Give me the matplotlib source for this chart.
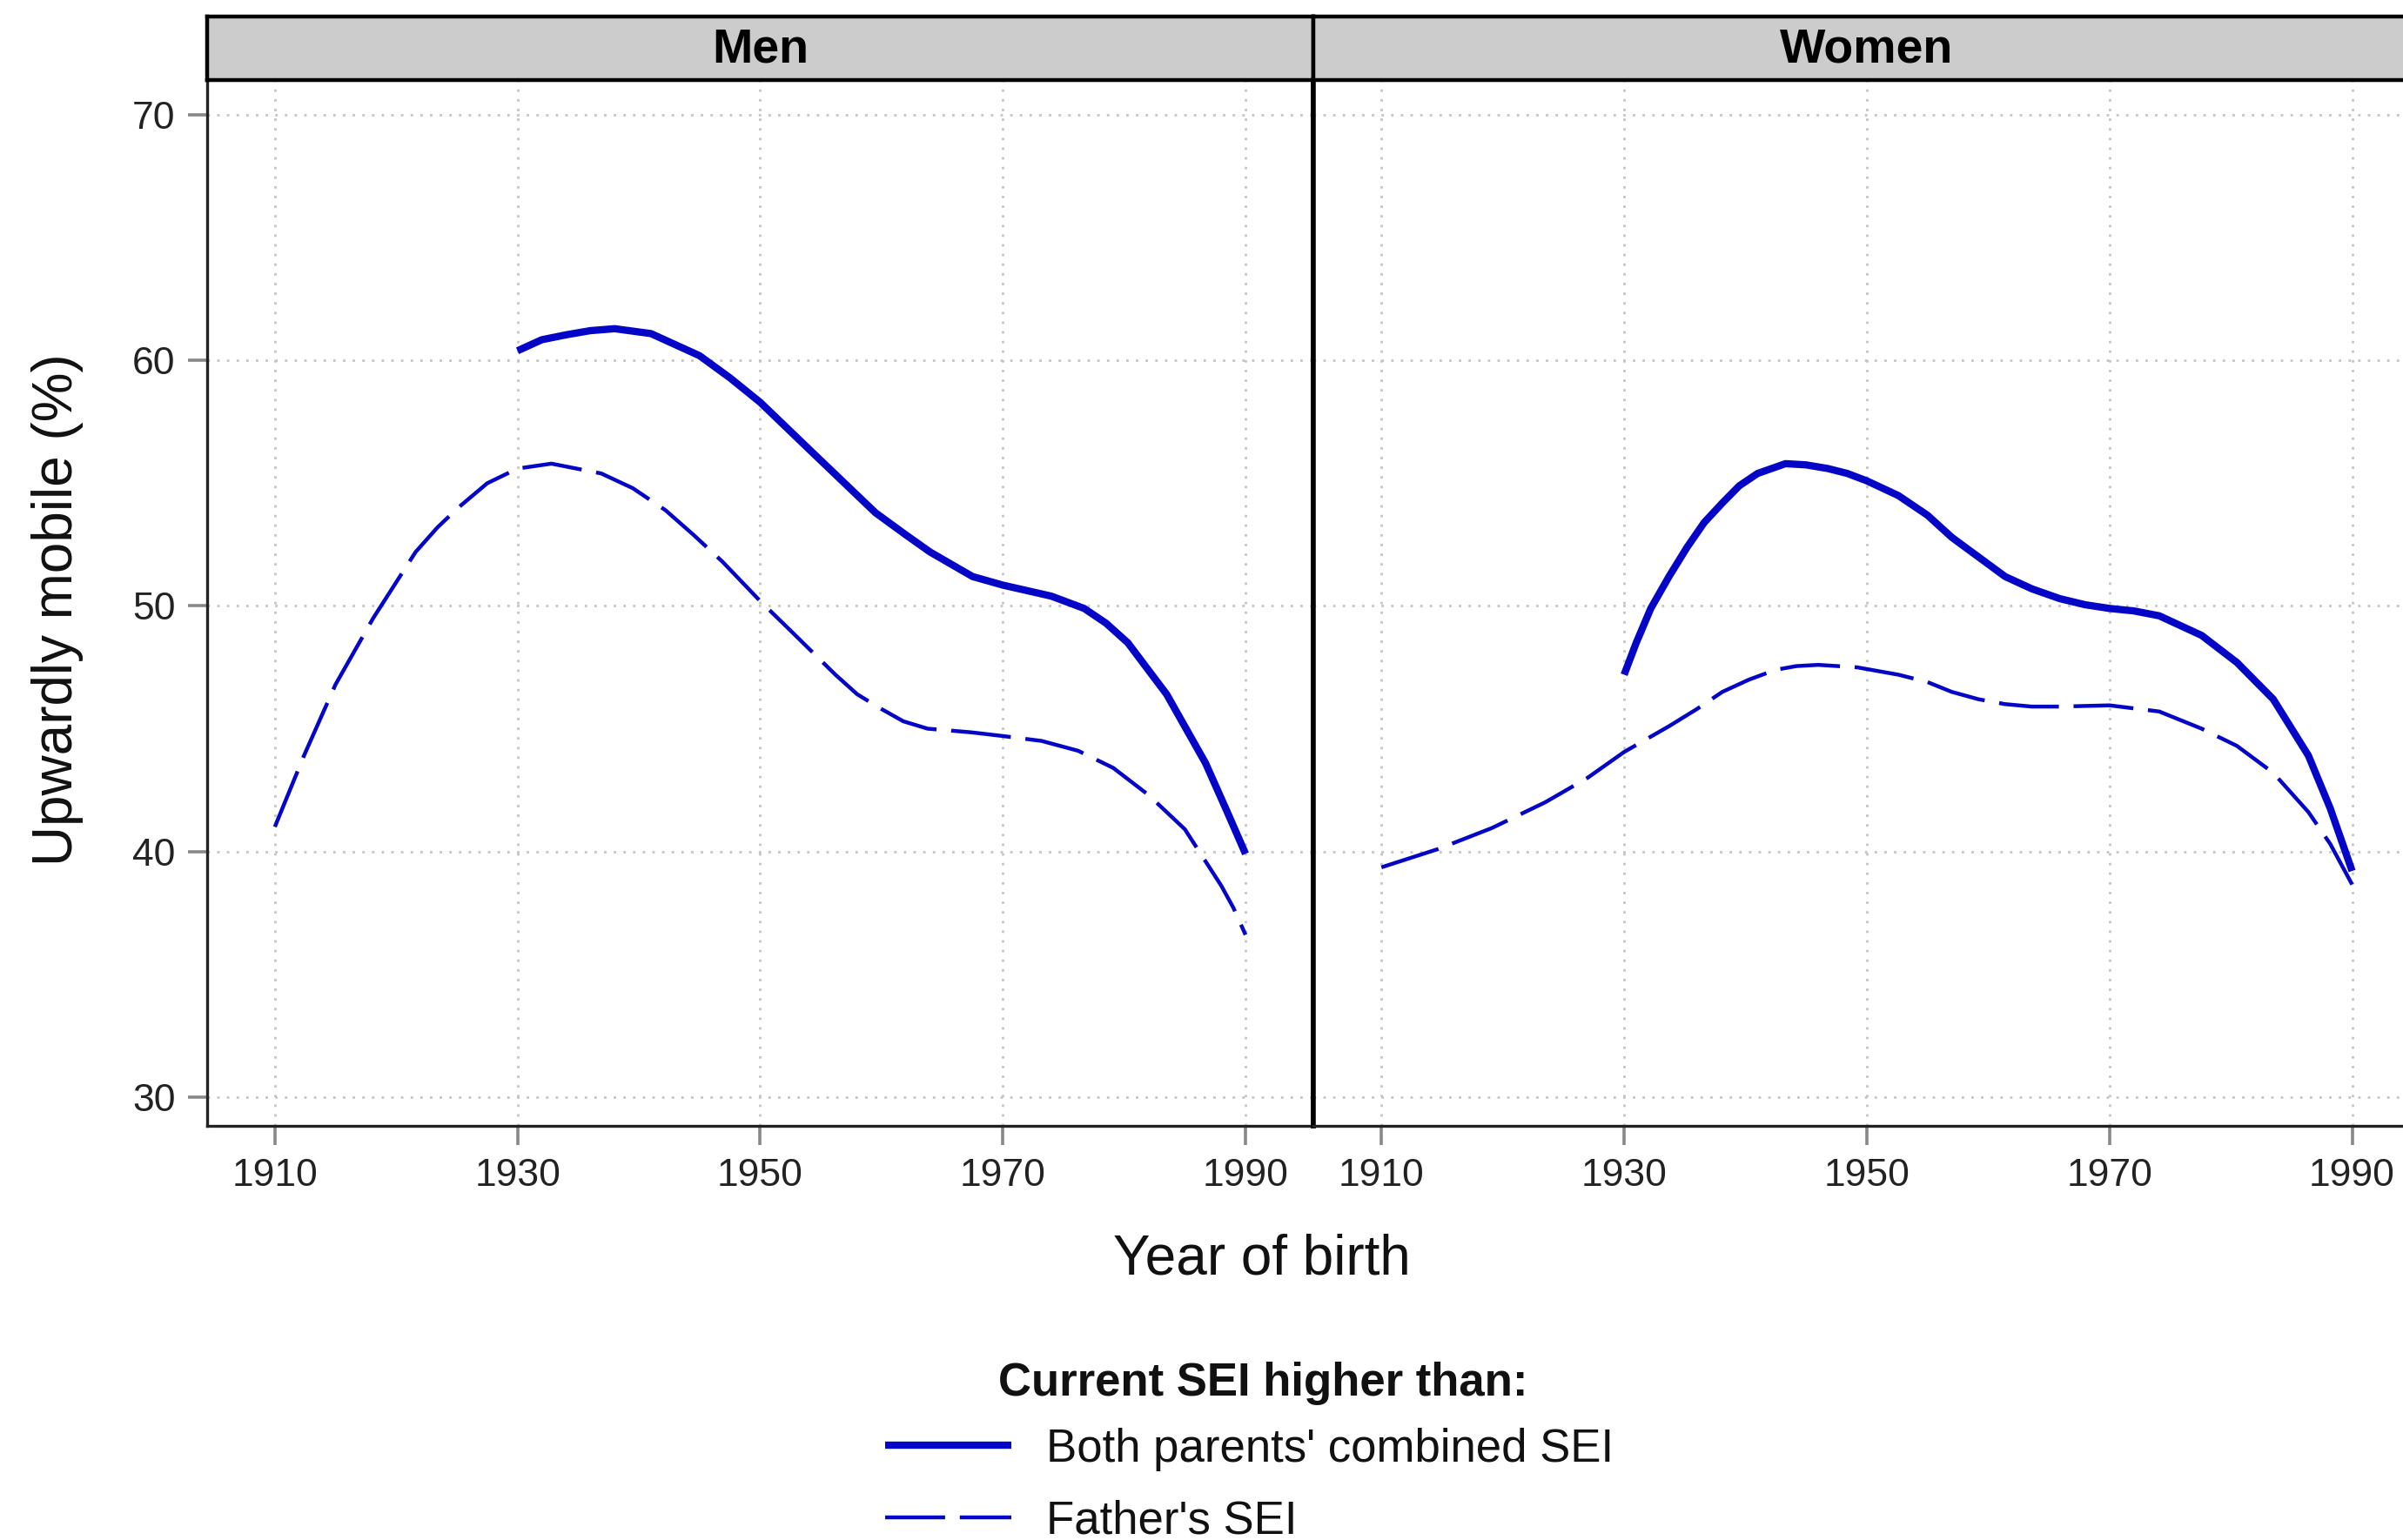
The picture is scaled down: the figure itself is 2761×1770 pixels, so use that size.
import matplotlib
matplotlib.use("Agg")
import matplotlib.pyplot as plt

plt.rcParams["font.family"] = ["Liberation Sans", "DejaVu Sans"]

# values (upwardly mobile, %)
men_both_yr = [1930, 1932, 1934, 1936, 1938, 1941, 1945, 1947.5, 1950, 1954, 1959.5,
               1962, 1964, 1967.5, 1970, 1974, 1976.7, 1978.5, 1980.3, 1983.5,
               1986.7, 1988.5, 1990]
men_both = [60.4, 60.85, 61.05, 61.22, 61.3, 61.1, 60.2, 59.3, 58.3, 56.4, 53.8,
            52.9, 52.2, 51.2, 50.85, 50.4, 49.9, 49.3, 48.5, 46.4,
            43.6, 41.6, 39.9]

men_father_yr = [1910, 1912.4, 1915, 1918.1, 1921.6, 1923.4, 1925.1, 1927.5, 1930,
                 1932.8, 1936.9, 1939.5, 1942.2, 1944.5, 1946.9, 1950, 1952.7, 1956.2,
                 1958, 1960, 1961.8, 1963.8, 1967.4, 1970, 1973.2, 1976.2, 1979.1,
                 1982, 1985, 1988, 1989, 1990]
men_father = [41.0, 43.9, 46.8, 49.5, 52.2, 53.2, 54.0, 55.0, 55.6,
              55.8, 55.4, 54.8, 53.9, 52.9, 51.8, 50.2, 48.9, 47.2,
              46.4, 45.8, 45.3, 45.0, 44.85, 44.7, 44.5, 44.1, 43.4,
              42.3, 40.9, 38.6, 37.7, 36.6]

women_both_yr = [1930, 1931, 1932.2, 1933.7, 1935.2, 1936.6, 1938.1, 1939.5, 1941,
                 1943.3, 1945, 1946.8, 1948.4, 1950, 1952.6, 1955, 1957, 1959.2,
                 1961.4, 1963.6, 1965.9, 1968, 1970, 1972, 1974.1, 1977.6, 1980.5,
                 1983.5, 1986.4, 1988.2, 1990]
women_both = [47.2, 48.5, 49.9, 51.2, 52.4, 53.4, 54.2, 54.9, 55.4,
              55.8, 55.75, 55.6, 55.4, 55.1, 54.5, 53.7, 52.8, 52.0,
              51.2, 50.7, 50.3, 50.05, 49.9, 49.8, 49.6, 48.8, 47.7,
              46.2, 43.9, 41.75, 39.2]

women_father_yr = [1910, 1914.7, 1919.1, 1923.5, 1927, 1930, 1933.7, 1936, 1938.1,
                   1940.3, 1942.5, 1944.2, 1946, 1949.2, 1952.6, 1955, 1957, 1959.2,
                   1961.4, 1963.6, 1965.9, 1970, 1974.1, 1977.6, 1980.5, 1983.5,
                   1986.4, 1988.2, 1990]
women_father = [39.35, 40.1, 40.95, 42.0, 43.0, 44.05, 45.1, 45.8, 46.5,
                47.0, 47.4, 47.55, 47.6, 47.5, 47.2, 46.9, 46.5, 46.2,
                46.0, 45.9, 45.9, 45.95, 45.7, 45.0, 44.3, 43.2,
                41.6, 40.3, 38.65]

panels = ["Men", "Women"]
xticks = [1910, 1930, 1950, 1970, 1990]
yticks = [30, 40, 50, 60, 70]
series_labels = ["Both parents' combined SEI", "Father's SEI"]
legend_title = "Current SEI higher than:"

BLUE = "#0505c8"
fig = plt.figure(figsize=(13.805, 8.85), dpi=200)

x0, w = 0.0861, 0.4605
bot, h = 0.2687, 0.6796
strip_h = 0.0408

data = {
    "Men": ((men_both_yr, men_both), (men_father_yr, men_father)),
    "Women": ((women_both_yr, women_both), (women_father_yr, women_father)),
}

handles = []
for i, name in enumerate(panels):
    ax = fig.add_axes([x0 + i * w, bot, w, h])
    (bx, by), (fx, fy) = data[name]
    l1, = ax.plot(bx, by, color=BLUE, lw=3.0, solid_capstyle="butt",
                  solid_joinstyle="round", zorder=3)
    l2, = ax.plot(fx, fy, color=BLUE, lw=1.6, dashes=(15.5, 3.8), zorder=3)
    if i == 0:
        handles = [l1, l2]
    ax.set_xlim(1904.4, 1995.6)
    ax.set_ylim(28.8, 71.45)
    ax.set_xticks(xticks)
    ax.set_yticks(yticks)
    ax.grid(True, color="#c4c4c4", ls=(0, (1, 3)), lw=1.0)
    ax.tick_params(length=8, width=1.3, color="#888888", labelsize=16,
                   labelcolor="#222222", pad=5)
    if i == 1:
        ax.tick_params(axis="y", left=False, labelleft=False)
    for s in ax.spines.values():
        s.set_color("#222222")
        s.set_linewidth(1.2)
    ax.spines["top"].set_visible(False)
    ax.spines["right"].set_linewidth(2.0)
    ax.spines["right"].set_color("black")
    if i == 1:
        ax.spines["left"].set_linewidth(2.0)
        ax.spines["left"].set_color("black")

    sx = fig.add_axes([x0 + i * w, bot + h, w, strip_h])
    sx.set_facecolor("#cccccc")
    sx.set_xticks([]); sx.set_yticks([])
    for s in sx.spines.values():
        s.set_color("black")
        s.set_linewidth(1.6)
    sx.text(0.5, 0.47, name, ha="center", va="center", fontsize=20,
            fontweight="bold", transform=sx.transAxes)

fig.text(0.024, 0.604, "Upwardly mobile (%)", rotation=90, ha="center",
         va="center", fontsize=23, color="#111111")
fig.text(0.525, 0.182, "Year of birth", ha="center", va="center",
         fontsize=23, color="#111111")

# legend: title as its own text (it sits a little right of the key block)
fig.text(0.5255, 0.1015, legend_title, ha="center", va="center",
         fontsize=19, fontweight="bold", color="#111111")
leg = fig.legend(handles, series_labels, loc="center",
                 bbox_to_anchor=(0.520, 0.0355), frameon=False, fontsize=19,
                 handlelength=2.75, handletextpad=0.75, labelspacing=0.62,
                 borderpad=0.0, borderaxespad=0.0)
for t in leg.get_texts():
    t.set_color("#111111")

fig.savefig("out.png", dpi=200)
